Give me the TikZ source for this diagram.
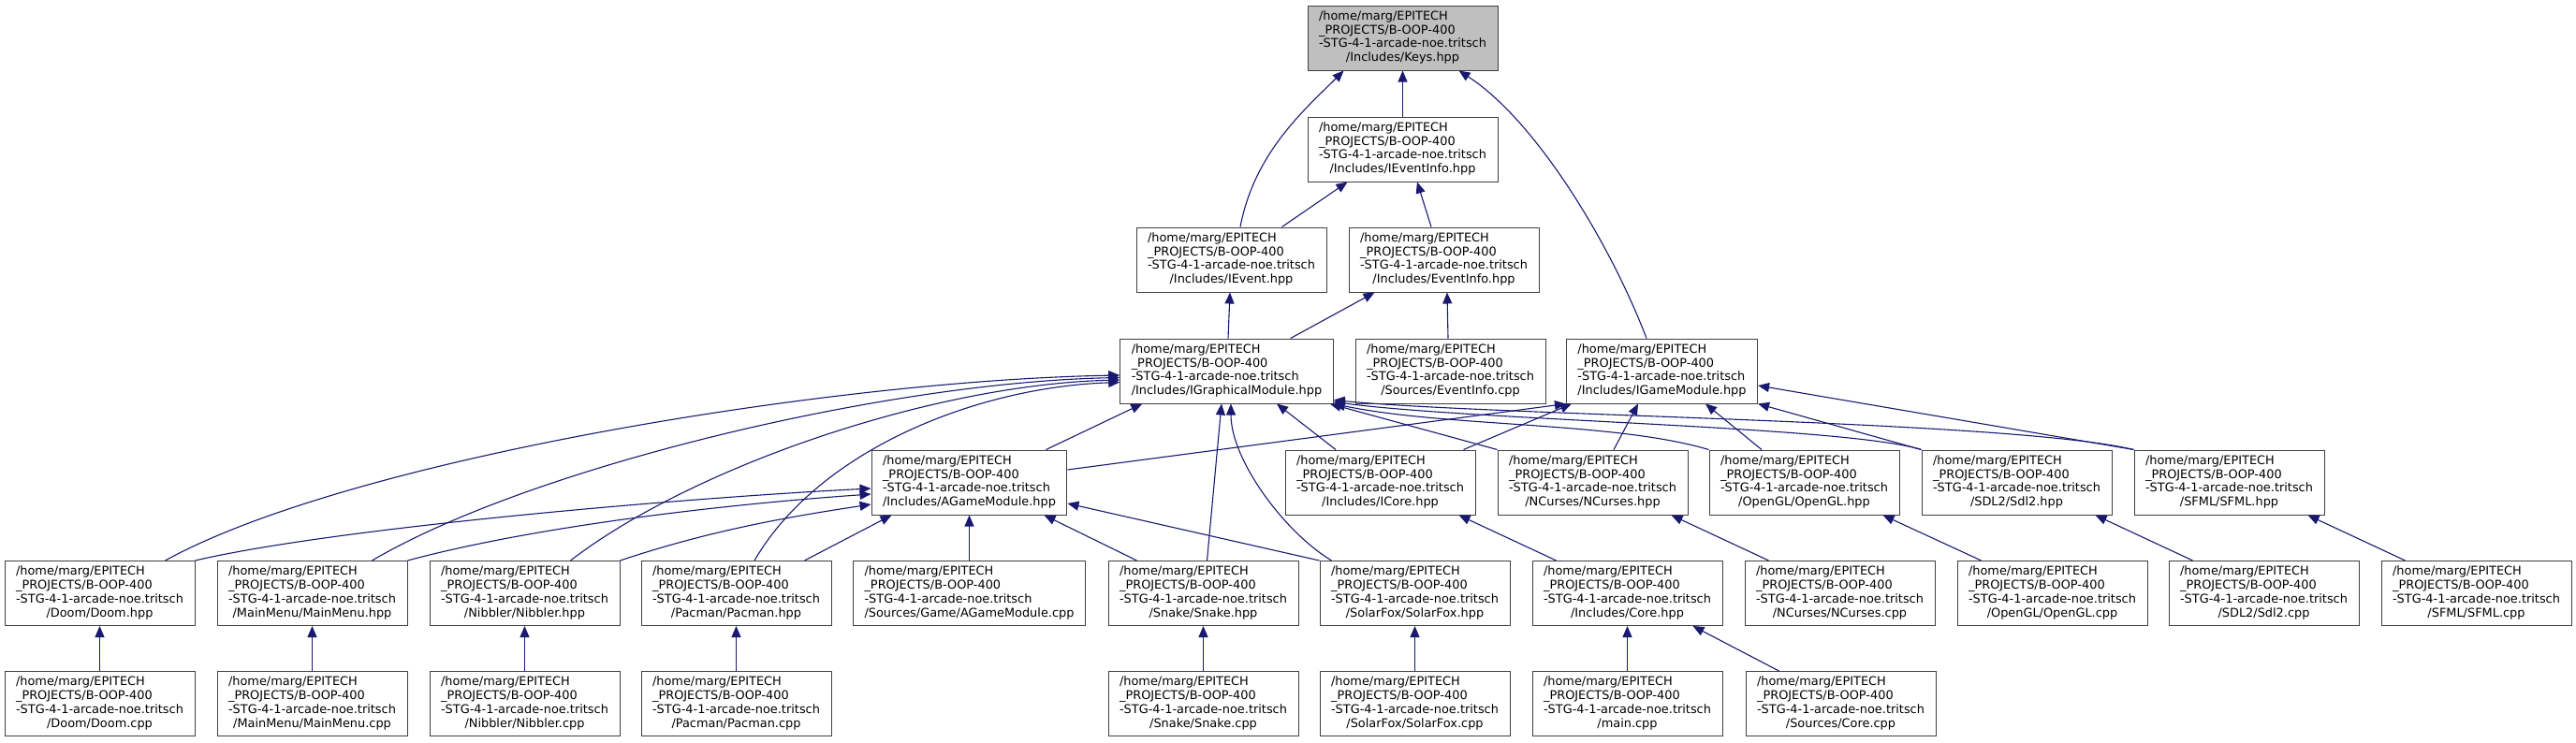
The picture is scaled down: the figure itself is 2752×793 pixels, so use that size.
\documentclass[tikz,border=0pt]{standalone}
\usepackage{fontspec}
\usepackage{tikz}
\usetikzlibrary{arrows.meta}
\newfontfamily\filefont{DejaVu Sans}
\definecolor{edgeblue}{HTML}{191970}
\definecolor{boxgray}{HTML}{404040}
\definecolor{keygray}{HTML}{BFBFBF}
% every label starts with the same project path
\newcommand{\fpath}[1]{\begin{tabular}{@{}l@{}}/home/marg/EPITECH\\\_PROJECTS/B-OOP-400\\-STG-4-1-arcade-noe.tritsch\\\multicolumn{1}{@{}c@{}}{#1}\end{tabular}}

\begin{document}
\begin{tikzpicture}[x=1pt,y=-1pt,
    file/.style={draw=boxgray, fill=white, line width=1pt, minimum width=203pt,
                 minimum height=69pt, inner xsep=12pt, inner ysep=0pt,
                 font=\filefont\fontsize{12.9}{14.7}\selectfont},
    root/.style={file, fill=keygray},
    dep/.style={draw=edgeblue, line width=1.1pt, -{Triangle[length=12pt,width=10pt]}}]

  \useasboundingbox (0,0) rectangle (2752,793);

  % -- upper rows --
  \node[root] (keys) at (1498.5,40.5) {\fpath{/Includes/Keys.hpp}};
  \node[file] (ieventinfo) at (1498.5,159.5) {\fpath{/Includes/IEventInfo.hpp}};
  \node[file] (ievent) at (1315.5,277.5) {\fpath{/Includes/IEvent.hpp}};
  \node[file] (eventinfo) at (1542.5,277.5) {\fpath{/Includes/EventInfo.hpp}};
  \node[file] (igraph) at (1310.5,396.5) {\fpath{/Includes/IGraphicalModule.hpp}};
  \node[file] (eventinfocpp) at (1549.5,396.5) {\fpath{/Sources/EventInfo.cpp}};
  \node[file] (igame) at (1775.5,396.5) {\fpath{/Includes/IGameModule.hpp}};

  % -- row 4 --
  \node[file] (agame) at (1035.5,515.5) {\fpath{/Includes/AGameModule.hpp}};
  \node[file] (icore) at (1474.5,515.5) {\fpath{/Includes/ICore.hpp}};
  \node[file] (ncurses) at (1701.5,515.5) {\fpath{/NCurses/NCurses.hpp}};
  \node[file] (opengl) at (1927.5,515.5) {\fpath{/OpenGL/OpenGL.hpp}};
  \node[file] (sdl) at (2154.5,515.5) {\fpath{/SDL2/Sdl2.hpp}};
  \node[file] (sfml) at (2381.5,515.5) {\fpath{/SFML/SFML.hpp}};

  % -- row 5 --
  \node[file] (doom) at (106.5,634) {\fpath{/Doom/Doom.hpp}};
  \node[file] (mainmenu) at (333.5,634) {\fpath{/MainMenu/MainMenu.hpp}};
  \node[file] (nibbler) at (560.5,634) {\fpath{/Nibbler/Nibbler.hpp}};
  \node[file] (pacman) at (786.5,634) {\fpath{/Pacman/Pacman.hpp}};
  \node[file] (agamecpp) at (1035.5,634) {\fpath{/Sources/Game/AGameModule.cpp}};
  \node[file] (snake) at (1285.5,634) {\fpath{/Snake/Snake.hpp}};
  \node[file] (solarfox) at (1511.5,634) {\fpath{/SolarFox/SolarFox.hpp}};
  \node[file] (core) at (1738.5,634) {\fpath{/Includes/Core.hpp}};
  \node[file] (ncursescpp) at (1965.5,634) {\fpath{/NCurses/NCurses.cpp}};
  \node[file] (openglcpp) at (2192.5,634) {\fpath{/OpenGL/OpenGL.cpp}};
  \node[file] (sdlcpp) at (2418.5,634) {\fpath{/SDL2/Sdl2.cpp}};
  \node[file] (sfmlcpp) at (2645.5,634) {\fpath{/SFML/SFML.cpp}};

  % -- row 6 --
  \node[file] (doomcpp) at (106.5,752) {\fpath{/Doom/Doom.cpp}};
  \node[file] (mainmenucpp) at (333.5,752) {\fpath{/MainMenu/MainMenu.cpp}};
  \node[file] (nibblercpp) at (560.5,752) {\fpath{/Nibbler/Nibbler.cpp}};
  \node[file] (pacmancpp) at (786.5,752) {\fpath{/Pacman/Pacman.cpp}};
  \node[file] (snakecpp) at (1285.5,752) {\fpath{/Snake/Snake.cpp}};
  \node[file] (solarfoxcpp) at (1511.5,752) {\fpath{/SolarFox/SolarFox.cpp}};
  \node[file] (maincpp) at (1738.5,752) {\fpath{/main.cpp}};
  \node[file] (corecpp) at (1966.5,752) {\fpath{/Sources/Core.cpp}};

  % -- includes of Keys.hpp
  \draw[dep] (ieventinfo.north) -- (keys.south);
  \draw[dep] ([xshift=9.5pt]ievent.north) .. controls +(15,-80) and +(-40,40) .. ([xshift=39pt]keys.south west);
  \draw[dep] ([xshift=-16.5pt]igame.north) .. controls +(-39,-102) and +(82,53) .. ([xshift=-42pt]keys.south east);

  % -- IEventInfo.hpp, IEvent.hpp, EventInfo.hpp
  \draw[dep] ([xshift=-48pt]ievent.north east) -- ([xshift=43pt]ieventinfo.south west);
  \draw[dep] ([xshift=-13.5pt]eventinfo.north) -- ([xshift=15.5pt]ieventinfo.south);
  \draw[dep] ([xshift=1.5pt]igraph.north) -- ([xshift=-1.5pt]ievent.south);
  \draw[dep] ([xshift=-46pt]igraph.north east) -- ([xshift=28pt]eventinfo.south west);
  \draw[dep] ([xshift=-2.5pt]eventinfocpp.north) -- ([xshift=3.5pt]eventinfo.south);

  % -- IGraphicalModule.hpp
  \draw[dep] ([xshift=-32pt]doom.north east) .. controls +(200,-110) and +(-300,5) .. ([yshift=-4.5pt]igraph.west);
  \draw[dep] ([xshift=64pt]mainmenu.north) .. controls +(170,-100) and +(-250,5) .. ([yshift=-7pt]igraph.west);
  \draw[dep] ([xshift=49pt]nibbler.north) .. controls +(130,-100) and +(-200,5) .. ([yshift=-9.5pt]igraph.west);
  \draw[dep] ([xshift=19.5pt]pacman.north) .. controls +(70,-120) and +(-150,5) .. ([yshift=-12pt]igraph.west);
  \draw[dep] ([xshift=-23pt]agame.north east) -- ([xshift=24pt]igraph.south west);
  \draw[dep] ([xshift=4pt]snake.north) -- ([xshift=-5.5pt]igraph.south);
  \draw[dep] ([xshift=13pt]solarfox.north west) .. controls +(-50,-30) and +(0,60) .. ([xshift=4.5pt]igraph.south);
  \draw[dep] ([xshift=-47.5pt]icore.north) -- ([xshift=53.5pt]igraph.south);
  \draw[dep] (ncurses.north west) -- ([xshift=-4pt]igraph.south east);
  \draw[dep] (opengl.north west) .. controls +(-100,-30) and +(120,25) .. (igraph.south east);
  \draw[dep] (sdl.north west) .. controls +(-80,-25) and +(150,20) .. ([yshift=2pt]igraph.south east);
  \draw[dep] (sfml.north west) .. controls +(-129,-31) and +(174,17) .. ([yshift=4pt]igraph.south east);

  % -- IGameModule.hpp
  \draw[dep] ([yshift=13.5pt]agame.east) -- (igame.south west);
  \draw[dep] ([xshift=-13pt]icore.north east) -- ([xshift=6pt]igame.south west);
  \draw[dep] ([xshift=22.5pt]ncurses.north) -- ([xshift=-25.5pt]igame.south);
  \draw[dep] ([xshift=-45.5pt]opengl.north) -- ([xshift=46.5pt]igame.south);
  \draw[dep] (sdl.north west) -- (igame.south east);
  \draw[dep] (sfml.north west) -- ([yshift=-15.5pt]igame.east);

  % -- AGameModule.hpp
  \draw[dep] (doom.north east) .. controls +(150,-35) and +(-200,10) .. ([yshift=-6.5pt]agame.west);
  \draw[dep] (mainmenu.north east) .. controls +(130,-35) and +(-170,12) .. ([yshift=-12.5pt]agame.west);
  \draw[dep] (nibbler.north east) .. controls +(90,-30) and +(-100,15) .. ([yshift=-23.5pt]agame.west);
  \draw[dep] ([xshift=-29pt]pacman.north east) -- ([xshift=22pt]agame.south west);
  \draw[dep] (agamecpp.north) -- (agame.south);
  \draw[dep] ([xshift=-71pt]snake.north) -- ([xshift=-25pt]agame.south east);
  \draw[dep] (solarfox.north west) -- ([yshift=-22.5pt]agame.east);

  % -- sources into their headers
  \foreach \c/\p in {core/icore, ncursescpp/ncurses, openglcpp/opengl, sdlcpp/sdl, sfmlcpp/sfml}
    \draw[dep] ([xshift=-76pt]\c.north) -- ([xshift=-18pt]\p.south east);
  \foreach \c/\p in {doomcpp/doom, mainmenucpp/mainmenu, nibblercpp/nibbler, pacmancpp/pacman,
                     snakecpp/snake, solarfoxcpp/solarfox, maincpp/core}
    \draw[dep] (\c) -- (\p);
  \draw[dep] ([xshift=-66pt]corecpp.north) -- ([xshift=-32pt]core.south east);
\end{tikzpicture}
\end{document}
